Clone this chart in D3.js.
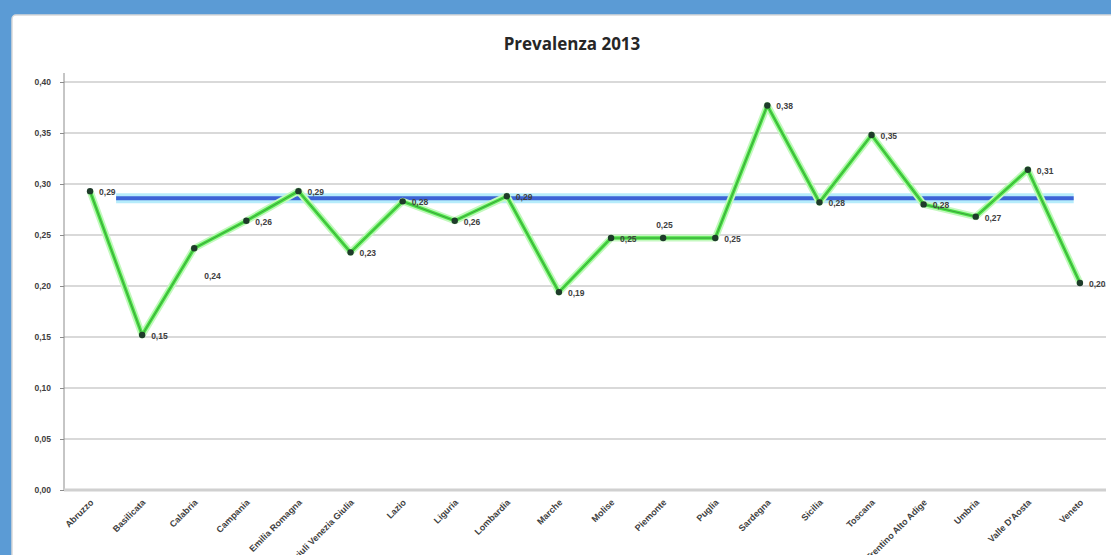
<!DOCTYPE html>
<html>
<head>
<meta charset="utf-8">
<script src="https://cdn.jsdelivr.net/npm/d3@7"></script>
<style>
  html, body { margin: 0; padding: 0; background: #5b9bd5; }
  svg { display: block; }
</style>
</head>
<body>
<svg id="chart" width="1111" height="555"></svg>
<script>
// Regional prevalence, 2013
const regions = ["Abruzzo", "Basilicata", "Calabria", "Campania", "Emilia Romagna",
  "Friuli Venezia Giulia", "Lazio", "Liguria", "Lombardia", "Marche", "Molise",
  "Piemonte", "Puglia", "Sardegna", "Sicilia", "Toscana", "Trentino Alto Adige",
  "Umbria", "Valle D'Aosta", "Veneto"];
const prevalence = [0.293, 0.152, 0.237, 0.264, 0.293, 0.233, 0.283, 0.264, 0.288, 0.194,
  0.247, 0.247, 0.247, 0.377, 0.282, 0.348, 0.280, 0.268, 0.314, 0.203];
// National reference level
const nationalLevel = 0.286;
const yTicks = [0, 0.05, 0.10, 0.15, 0.20, 0.25, 0.30, 0.35, 0.40];

const svg = d3.select("#chart");
const W = 1111, H = 555;

// chart panel on the blue page
svg.append("rect").attr("x", 0).attr("y", 0).attr("width", W).attr("height", H).attr("fill", "#5b9bd5");
svg.append("rect").attr("x", 12).attr("y", 15).attr("width", W + 20).attr("height", H + 20)
  .attr("rx", 4).attr("fill", "#ffffff").attr("stroke", "#d9d9d9").attr("stroke-width", 1.5);

const plot = { left: 64, right: 1106, top: 73, bottom: 490 };

const x = d3.scaleLinear().domain([-0.5, regions.length - 0.5]).range([plot.left, plot.right]);
const y = d3.scaleLinear().domain([0, 0.40]).range([plot.bottom, 82]);

const fmt = v => d3.format(".2f")(v).replace(".", ",");

// horizontal gridlines
svg.append("g").selectAll("line").data(yTicks.filter(t => t > 0)).join("line")
  .attr("x1", plot.left).attr("x2", plot.right)
  .attr("y1", d => y(d)).attr("y2", d => y(d))
  .attr("stroke", "#b3b3b3").attr("stroke-width", 1);

// y axis
const yAxis = svg.append("g").attr("transform", `translate(${plot.left},0)`)
  .call(d3.axisLeft(y).tickValues(yTicks).tickFormat(fmt).tickSize(4).tickPadding(9));
yAxis.select(".domain").remove();
yAxis.append("line").attr("x1", 0).attr("x2", 0).attr("y1", plot.top).attr("y2", plot.bottom)
  .attr("stroke", "#8c8c8c");
yAxis.selectAll(".tick line").attr("stroke", "#8c8c8c");
yAxis.selectAll(".tick text").attr("fill", "#404040")
  .style("font", "bold 8.5px 'Liberation Sans', Arial, sans-serif");

// category axis baseline
svg.append("line").attr("x1", plot.left).attr("x2", plot.right)
  .attr("y1", plot.bottom).attr("y2", plot.bottom)
  .attr("stroke", "#d0d0d0").attr("stroke-width", 3);

// category labels
svg.append("g").selectAll("text").data(regions).join("text")
  .attr("transform", (d, i) => `translate(${x(i) + 4},${plot.bottom + 13}) rotate(-45)`)
  .attr("text-anchor", "end")
  .attr("fill", "#404040")
  .style("font", "bold 9px 'Liberation Sans', Arial, sans-serif")
  .text(d => d);

// national reference line
const refLine = svg.append("g");
refLine.append("line").attr("x1", x(0.5)).attr("x2", x(18.88))
  .attr("y1", y(nationalLevel)).attr("y2", y(nationalLevel))
  .attr("stroke", "#b6ecfb").attr("stroke-width", 10);
refLine.append("line").attr("x1", x(0.5)).attr("x2", x(18.88))
  .attr("y1", y(nationalLevel)).attr("y2", y(nationalLevel))
  .attr("stroke", "#3c63d6").attr("stroke-width", 4);

// regional series
const pts = prevalence.map((v, i) => [x(i), y(v)]);
const line = d3.line();
svg.append("path").attr("d", line(pts)).attr("fill", "none")
  .attr("stroke", "#c4f8bf").attr("stroke-width", 7).attr("stroke-linejoin", "round");
svg.append("path").attr("d", line(pts)).attr("fill", "none")
  .attr("stroke", "#4ce346").attr("stroke-width", 3.5).attr("stroke-linejoin", "round");
svg.append("path").attr("d", line(pts)).attr("fill", "none")
  .attr("stroke", "#3a8a3e").attr("stroke-width", 0.8).attr("stroke-linejoin", "round");

svg.append("g").selectAll("circle").data(prevalence).join("circle")
  .attr("cx", (d, i) => x(i)).attr("cy", d => y(d)).attr("r", 3.2)
  .attr("fill", "#1e3b2a");

// value labels; a few sit off to avoid the lines
const placement = { "Calabria": [10, 31], "Piemonte": [-7, -10] };
svg.append("g").selectAll("text").data(prevalence).join("text")
  .attr("x", (d, i) => x(i) + (placement[regions[i]] ? placement[regions[i]][0] : 9))
  .attr("y", (d, i) => y(d) + (placement[regions[i]] ? placement[regions[i]][1] : 4))
  .attr("fill", "#404040")
  .style("font", "bold 8.5px 'Liberation Sans', Arial, sans-serif")
  .text(d => fmt(d));

// title
svg.append("text").attr("x", 572).attr("y", 50).attr("text-anchor", "middle")
  .attr("fill", "#262626")
  .style("font", "bold 17px 'Open Sans', 'Liberation Sans', sans-serif")
  .text("Prevalenza 2013");
</script>
</body>
</html>
